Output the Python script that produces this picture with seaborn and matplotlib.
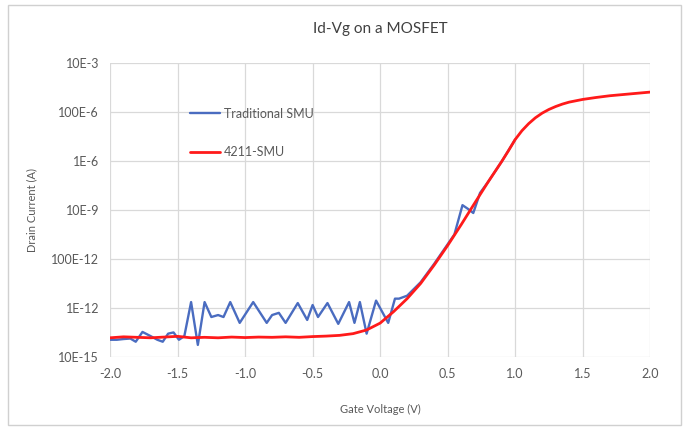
import numpy as np
import pandas as pd
import matplotlib
matplotlib.use("Agg")
import matplotlib.pyplot as plt
import seaborn as sns
from matplotlib.patches import Rectangle

# ===== DATA (log10 of drain current) =====
vg_red = [-2.0, -1.9, -1.8, -1.7, -1.6, -1.5, -1.4, -1.3, -1.2, -1.1, -1.0,
          -0.9, -0.8, -0.7, -0.6, -0.5, -0.4, -0.3, -0.2, -0.1, 0.0, 0.1,
          0.2, 0.3, 0.4, 0.5, 0.6, 0.7, 0.8, 0.9, 0.95, 1.0, 1.05, 1.1,
          1.15, 1.2, 1.25, 1.3, 1.35, 1.4, 1.5, 1.6, 1.7, 1.8, 1.9, 2.0]
log_red = [-13.22, -13.18, -13.20, -13.22, -13.19, -13.16, -13.22, -13.20,
           -13.22, -13.19, -13.21, -13.19, -13.20, -13.18, -13.20, -13.17,
           -13.15, -13.12, -13.05, -12.90, -12.62, -12.15, -11.62, -11.00,
           -10.25, -9.45, -8.60, -7.72, -6.85, -6.02, -5.58, -5.12, -4.76,
           -4.47, -4.23, -4.04, -3.89, -3.77, -3.67, -3.59, -3.48, -3.40,
           -3.33, -3.28, -3.23, -3.18]

vg_blue = [-2.00, -1.95, -1.90, -1.85, -1.81, -1.76, -1.70, -1.65, -1.61,
           -1.57, -1.53, -1.49, -1.45, -1.40, -1.35, -1.30, -1.25, -1.20,
           -1.16, -1.11, -1.04, -0.94, -0.84, -0.80, -0.75, -0.70, -0.61,
           -0.54, -0.50, -0.46, -0.39, -0.31, -0.23, -0.19, -0.15, -0.10,
           -0.03, 0.06, 0.11, 0.14, 0.20, 0.30, 0.40, 0.50, 0.55, 0.61,
           0.65, 0.69, 0.74, 0.80, 0.90, 1.00]
log_blue = [-13.30, -13.30, -13.27, -13.25, -13.38, -12.98, -13.15, -13.30,
            -13.38, -13.05, -13.00, -13.30, -13.15, -11.76, -13.51, -11.76,
            -12.37, -12.29, -12.37, -11.76, -12.61, -11.76, -12.61, -12.29,
            -12.20, -12.61, -11.80, -12.49, -11.88, -12.37, -11.80, -12.65,
            -11.76, -12.61, -11.76, -13.05, -11.70, -12.61, -11.62, -11.62,
            -11.50, -10.95, -10.20, -9.40, -9.00, -7.80, -7.95, -8.12,
            -7.30, -6.85, -6.02, -5.12]

x_ticks = [-2.0, -1.5, -1.0, -0.5, 0.0, 0.5, 1.0, 1.5, 2.0]
y_ticks = [1e-14, 1e-12, 1e-10, 1e-8, 1e-6, 1e-4, 1e-2]
y_labels = ["10E-15", "1E-12", "100E-12", "10E-9", "1E-6", "100E-6", "10E-3"]

df_blue = pd.DataFrame({"vg": vg_blue, "id": 10.0 ** np.array(log_blue)})
df_red = pd.DataFrame({"vg": vg_red, "id": 10.0 ** np.array(log_red)})

# ===== STYLE =====
sns.set_theme(style="white")
plt.rcParams["font.family"] = ["Lato", "DejaVu Sans"]
txt = "#595959"

fig = plt.figure(figsize=(6.88, 4.30), dpi=100)
fig.patches.append(Rectangle((0.012, 0.012), 0.978, 0.976, transform=fig.transFigure,
                             fill=False, edgecolor="#d0d0d0", linewidth=1.0))
ax = fig.add_axes([0.160, 0.170, 0.785, 0.683])

sns.lineplot(data=df_blue, x="vg", y="id", ax=ax, color="#4a6cc0",
             linewidth=1.7, label="Traditional SMU", sort=False)
sns.lineplot(data=df_red, x="vg", y="id", ax=ax, color="#ff1a1a",
             linewidth=2.0, label="4211-SMU", sort=False)
for ln in ax.lines:
    ln.set_solid_joinstyle("round")

ax.set_yscale("log")
ax.set_xlim(-2.0, 2.0)
ax.set_ylim(1e-14, 1e-2)
ax.set_xticks(x_ticks)
ax.set_xticklabels([f"{v:.1f}" for v in x_ticks])
ax.set_yticks(y_ticks)
ax.set_yticklabels(y_labels)
ax.minorticks_off()
ax.tick_params(axis="both", labelsize=9, colors=txt, length=0, pad=8)
ax.grid(True, color="#d9d9d9", linewidth=0.9)
for s in ax.spines.values():
    s.set_visible(False)

ax.set_title("Id-Vg on a MOSFET", fontsize=11, color="#404040", pad=22)
ax.set_xlabel("Gate Voltage (V)", fontsize=8, color=txt, labelpad=17)
ax.set_ylabel("Drain Current (A)", fontsize=8, color=txt, labelpad=10)

ax.legend(loc="upper left", bbox_to_anchor=(0.148, 0.848), frameon=False,
          fontsize=9, labelspacing=2.1, handlelength=2.4, handletextpad=0.3,
          borderpad=0, borderaxespad=0, labelcolor=txt)

fig.savefig("out.png", dpi=100)
